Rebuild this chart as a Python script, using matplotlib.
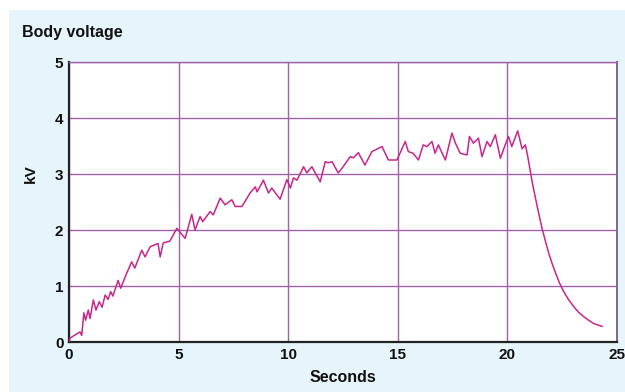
import matplotlib
matplotlib.use("Agg")
from matplotlib import pyplot as plt
from matplotlib.patches import Rectangle

# body voltage trace
seconds = [0.0, 0.05, 0.5, 0.58, 0.68, 0.76, 0.88, 0.96, 1.11, 1.23, 1.38, 1.51, 1.65, 1.78, 1.9, 2.0,
           2.24, 2.36, 2.6, 2.86, 3.0, 3.32, 3.47, 3.7, 4.06, 4.16, 4.3, 4.6, 4.92, 5.3,
           5.6, 5.75, 5.98, 6.1, 6.44, 6.58, 6.9, 7.12, 7.43, 7.58, 7.89, 8.26, 8.5,
           8.58, 8.87, 9.1, 9.25, 9.63, 9.94, 10.1, 10.24, 10.4, 10.7, 10.85, 11.08,
           11.46, 11.69, 11.83, 12.0, 12.28, 12.45, 12.83, 12.97, 13.2, 13.5, 13.82,
           14.28, 14.57, 14.96, 15.34, 15.48, 15.7, 15.94, 16.16, 16.33, 16.56, 16.7,
           16.85, 17.17, 17.47, 17.63, 17.85, 18.16, 18.27, 18.45, 18.68, 18.84,
           19.07, 19.22, 19.45, 19.68, 19.9, 20.05, 20.2, 20.47, 20.67, 20.82, 20.93,
           21.13, 21.36, 21.58, 21.75, 21.89, 22.05, 22.2, 22.38, 22.57, 22.8, 23.03,
           23.25, 23.49, 23.7, 23.94, 24.15, 24.32]
kilovolts = [0.0, 0.07, 0.18, 0.12, 0.52, 0.39, 0.57, 0.42, 0.75, 0.57, 0.72, 0.62, 0.84, 0.76, 0.9, 0.82,
             1.1, 0.96, 1.2, 1.43, 1.32, 1.64, 1.52, 1.7, 1.76, 1.52, 1.77, 1.8, 2.03, 1.85,
             2.28, 2.0, 2.24, 2.15, 2.33, 2.27, 2.57, 2.45, 2.54, 2.42, 2.42, 2.66, 2.77,
             2.68, 2.89, 2.66, 2.75, 2.55, 2.9, 2.75, 2.93, 2.89, 3.13, 3.02, 3.13,
             2.86, 3.22, 3.2, 3.22, 3.02, 3.1, 3.31, 3.29, 3.38, 3.16, 3.4,
             3.49, 3.25, 3.25, 3.58, 3.4, 3.37, 3.25, 3.52, 3.49, 3.58, 3.37,
             3.52, 3.25, 3.73, 3.55, 3.37, 3.34, 3.67, 3.55, 3.64, 3.31,
             3.58, 3.49, 3.7, 3.28, 3.52, 3.67, 3.49, 3.77, 3.45, 3.52, 3.31,
             2.86, 2.42, 2.03, 1.78, 1.58, 1.39, 1.23, 1.05, 0.9, 0.75, 0.63,
             0.53, 0.45, 0.39, 0.33, 0.3, 0.28]

xticks = [0, 5, 10, 15, 20, 25]
yticks = [0, 1, 2, 3, 4, 5]

font = ["Liberation Sans Narrow", "Liberation Sans", "DejaVu Sans"]
plt.rcParams["font.family"] = font
plt.rcParams["font.weight"] = "bold"

fig = plt.figure(figsize=(6.25, 3.92), dpi=100)
fig.patch.set_facecolor("white")
panel = Rectangle((9 / 625, 0), 1, 1 - 10 / 392, transform=fig.transFigure,
                  facecolor="#e6f4fb", edgecolor="none", zorder=-5)
fig.add_artist(panel)

ax = fig.add_axes([69 / 625, 1 - 342 / 392, 548 / 625, 280 / 392])
ax.set_zorder(1)
ax.set_facecolor("white")
ax.plot(seconds, kilovolts, color="#c8268a", lw=1.1, zorder=3)

ax.set_xlim(0, 25)
ax.set_ylim(0, 5)
ax.set_xticks(xticks)
ax.set_yticks(yticks)
ax.set_xticklabels([str(t) for t in xticks], fontsize=11, fontweight="bold")
ax.set_yticklabels([str(t) for t in yticks], fontsize=11, fontweight="bold")
ax.tick_params(length=0, pad=4, colors="#111111")
ax.grid(True, color="#a060aa", lw=1.0, zorder=1)
ax.set_axisbelow(True)

for side in ["left", "bottom"]:
    ax.spines[side].set_color("#222222")
    ax.spines[side].set_linewidth(1.6)
ax.spines["top"].set_color("#a060aa")
ax.spines["top"].set_linewidth(1.0)
ax.spines["right"].set_color("#7a6a8a")
ax.spines["right"].set_linewidth(1.4)

fig.text(22 / 625, 1 - 33 / 392, "Body voltage", fontsize=11.5, fontweight="bold",
         va="center", ha="left", color="#111111")
fig.text(31 / 625, 1 - 174 / 392, "kV", fontsize=11, fontweight="bold", rotation=90,
         va="center", ha="center", color="#111111")
fig.text(343 / 625, 1 - 378 / 392, "Seconds", fontsize=11.5, fontweight="bold",
         va="center", ha="center", color="#111111")

fig.savefig("out.png", dpi=100)
